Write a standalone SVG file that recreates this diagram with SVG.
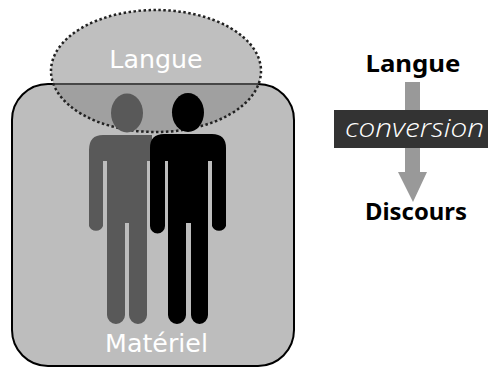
<svg xmlns="http://www.w3.org/2000/svg" width="488" height="367" viewBox="0 0 488 367">
<style>
.w{fill:#fff;font-family:"DejaVu Sans",sans-serif;font-size:25.300px;text-anchor:middle}
.b{fill:#000;font-family:"Noto Sans","DejaVu Sans",sans-serif;font-size:24px;font-weight:700;text-anchor:middle}
</style>
<g id="materiel">
<rect x="12" y="84" width="282" height="282" rx="36" fill="#bdbdbd" stroke="#000" stroke-width="2"/>
</g>
<g id="langue-ellipse">
<ellipse cx="156" cy="71" rx="105" ry="61" fill="#868686" fill-opacity=".53" stroke="#222" stroke-width="2.5" stroke-dasharray="2.5 2.5"/>
<text class="w" x="156" y="68">Langue</text>
</g>
<g id="person-gray">
<ellipse cx="127" cy="113" rx="16" ry="19.5" fill="#595959"/>
<path fill="#595959" d="M103 135H152V161H147V315A9 9 0 0 1 129 315V223H125V315A9 9 0 0 1 107 315V161H103V226A7.500 7.500 0 0 1 89 226V150Q89 135 103 135Z"/>
</g>
<g id="person-black">
<ellipse cx="188" cy="112.500" rx="16" ry="19.500" fill="#000"/>
<path fill="#000" d="M164 134H212Q226 134 226 148V226A7.500 7.500 0 0 1 212 226V161H208V315A8.500 9 0 0 1 191 315V223H186V315A9 9 0 0 1 168 315V161H165V226A7.500 7.500 0 0 1 150 226V148Q150 134 164 134Z"/>
</g>
<g id="label-materiel"><text class="w" x="156.500" y="352">Matériel</text></g>
<g id="connectors">
<path fill="#999" d="M405 82H420V172H427L413 202L398 172H405Z"/>
</g>
<g id="label-langue"><text class="b" x="413" y="72" textLength="95" lengthAdjust="spacingAndGlyphs">Langue</text></g>
<g id="conversion">
<rect x="334" y="110" width="154" height="38" fill="#333"/>
<text x="414.500" y="137" fill="#fff" font-family="'Open Sans',sans-serif" font-weight="300" font-size="25" font-style="italic" text-anchor="middle" textLength="139" lengthAdjust="spacingAndGlyphs">conversion</text>
</g>
<g id="label-discours"><text class="b" x="416" y="220" textLength="102" lengthAdjust="spacingAndGlyphs">Discours</text></g>
</svg>
